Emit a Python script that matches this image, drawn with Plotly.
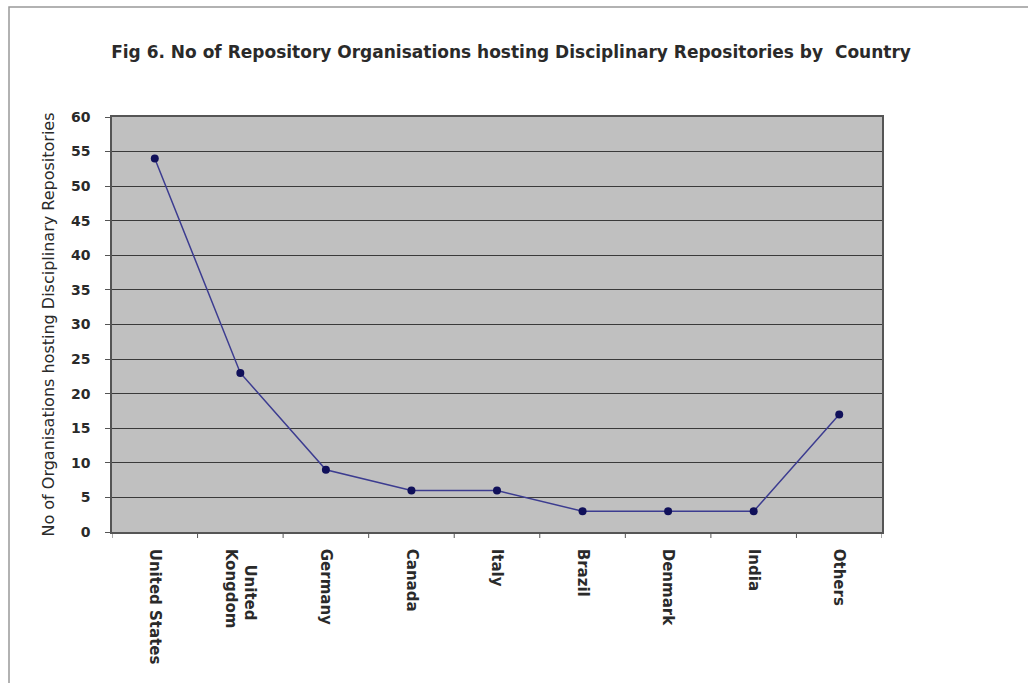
import plotly.graph_objects as go

countries = ["United States", "&nbsp;&nbsp;&nbsp;United<br>Kongdom", "Germany", "Canada", "Italy",
             "Brazil", "Denmark", "India", "Others"]
organisations = [54, 23, 9, 6, 6, 3, 3, 3, 17]

title_text = "Fig 6. No of Repository Organisations hosting Disciplinary Repositories by  Country"
y_title = "No of Organisations hosting Disciplinary Repositories"

L, R, T, B = 112, 146, 117, 151
W, H = 1028, 683
pw, ph = W - L - R, H - T - B

fig = go.Figure()
fig.add_trace(go.Scatter(
    x=list(range(len(countries))), y=organisations,
    mode="lines+markers",
    line=dict(color="#3c3c90", width=1.5),
    marker=dict(color="#10105a", size=8),
    showlegend=False,
))

font = "DejaVu Sans, Verdana, sans-serif"
fig.update_layout(
    width=W, height=H,
    margin=dict(l=L, r=R, t=T, b=B),
    paper_bgcolor="white",
    plot_bgcolor="#c0c0c0",
    title=dict(text="<b>" + title_text + "</b>", x=(511 - L) / pw, xref="paper",
               xanchor="center", y=1 - 52 / H, yanchor="middle",
               font=dict(family=font, size=17, color="#2a2a2a")),
    xaxis=dict(
        range=[-0.5, len(countries) - 0.5],
        tickmode="array", tickvals=list(range(len(countries))),
        ticktext=["<b>" + c + "</b>" for c in countries],
        tickangle=90, ticks="outside", ticklen=12, tickcolor="rgba(0,0,0,0)",
        showgrid=False, zeroline=False,
        showline=True, linecolor="#555", linewidth=1.5, mirror=True,
        tickfont=dict(family=font, size=15, color="#2a2a2a"),
    ),
    yaxis=dict(
        range=[0, 60], dtick=5, ticks="outside", ticklen=5, tickcolor="#555",
        ticklabelstandoff=12,
        showgrid=True, gridcolor="#3a3a3a", gridwidth=1, zeroline=False,
        showline=True, linecolor="#555", linewidth=1.5, mirror=True,
        tickfont=dict(family=font, size=14, color="#2a2a2a"),
        tickprefix="<b>", ticksuffix="</b>",
        title=dict(text=y_title, font=dict(family=font, size=16, color="#2a2a2a"), standoff=12),
    ),
)

# category boundary tick marks below the plot area
for i in range(len(countries) + 1):
    fig.add_shape(type="line", xref="x", yref="paper",
                  x0=i - 0.5, x1=i - 0.5, y0=0, y1=-6 / ph,
                  line=dict(color="#555", width=1))

# outer frame around the figure
fig.add_shape(type="rect", xref="paper", yref="paper",
              x0=(9 - L) / pw, x1=(1040 - L) / pw,
              y0=-(700 - (H - B)) / ph, y1=((H - B) - 7) / ph,
              line=dict(color="#999", width=1.5), fillcolor="rgba(0,0,0,0)", layer="below")

fig.write_html("out.html")
